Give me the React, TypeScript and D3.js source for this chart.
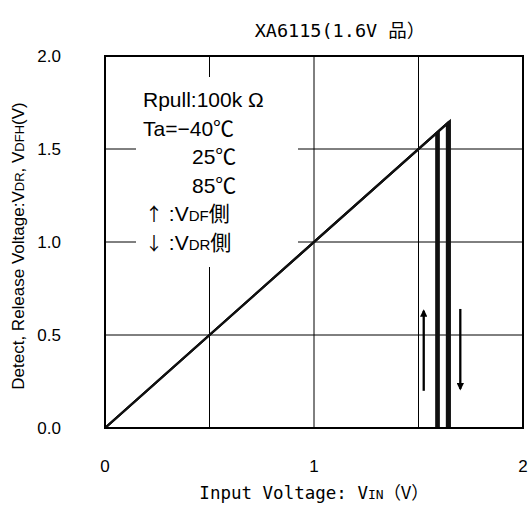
import React from "react";
import * as d3 from "d3";

const titleMain = "XA6115(1.6V ";
const titleCJK = "品）";
const xTicks = [0, 1, 2];
const yTicks = [0, 0.5, 1.0, 1.5, 2.0];
const gridX = [0.5, 1, 1.5];
const gridY = [0.5, 1, 1.5];
const temps = ["-40", "25", "85"];
const vdf = [1.585, 1.591, 1.597];
const vdr = [1.636, 1.643, 1.65];
const arrowUp = { x: 1.525, y0: 0.2, y1: 0.63 };
const arrowDown = { x: 1.7, y0: 0.64, y1: 0.21 };

const W = 530, H = 505;
const L = 105, R = 523, T = 56, B = 428;
const FONT = "'Liberation Sans', 'Noto Sans CJK JP', sans-serif";
const MONO = "'DejaVu Sans Mono', 'Noto Sans CJK JP', monospace";
const CJK = "'Noto Sans CJK JP', sans-serif";

export default function App() {
  const x = d3.scaleLinear().domain([0, 2]).range([L, R]);
  const y = d3.scaleLinear().domain([0, 2]).range([B, T]);
  const line = d3.line<[number, number]>().x((d) => x(d[0])).y((d) => y(d[1]));

  const paths: string[] = [];
  temps.forEach((_, i) => {
    paths.push(line([[0, 0], [vdr[i], vdr[i]], [vdr[i], 0]])!);
    paths.push(line([[vdf[i], vdf[i]], [vdf[i], 0]])!);
  });

  const legendX = 143;
  const rowY = (i: number) => 107 + i * 28.6;

  return (
    <svg width={W} height={H} style={{ position: "absolute", left: 0, top: 0, background: "#fff" }} fontFamily={FONT}>
      <defs>
        <marker id="ah" viewBox="0 0 10 10" refX="8" refY="5" markerWidth="3.5" markerHeight="3.2" orient="auto">
          <path d="M0,0 L10,5 L0,10 z" fill="#000" />
        </marker>
      </defs>
      {gridX.map((g) => (
        <line key={"gx" + g} x1={x(g)} x2={x(g)} y1={T} y2={B} stroke="#000" strokeWidth={1} />
      ))}
      {gridY.map((g) => (
        <line key={"gy" + g} x1={L} x2={R} y1={y(g)} y2={y(g)} stroke="#000" strokeWidth={1} />
      ))}
      <rect x={136} y={77} width={162} height={190} fill="#fff" />
      {paths.map((p, i) => (
        <path key={i} d={p} fill="none" stroke="#111" strokeWidth={2.2} />
      ))}
      <line x1={x(arrowUp.x)} x2={x(arrowUp.x)} y1={y(arrowUp.y0)} y2={y(arrowUp.y1)} stroke="#000" strokeWidth={2.3} markerEnd="url(#ah)" />
      <line x1={x(arrowDown.x)} x2={x(arrowDown.x)} y1={y(arrowDown.y0)} y2={y(arrowDown.y1)} stroke="#000" strokeWidth={2.3} markerEnd="url(#ah)" />
      <rect x={L} y={T} width={R - L} height={B - T} fill="none" stroke="#000" strokeWidth={2} />
      {yTicks.map((t) => (
        <text key={"yt" + t} x={61} y={y(t) + 6} textAnchor="end" fontSize={17}>{t.toFixed(1)}</text>
      ))}
      {xTicks.map((t) => (
        <text key={"xt" + t} x={x(t)} y={472} textAnchor="middle" fontSize={17}>{t}</text>
      ))}
      <text x={340} y={37} textAnchor="middle" fontSize={18.5} fontFamily={MONO}>
        {titleMain}<tspan fontFamily={CJK}>{titleCJK}</tspan>
      </text>
      <text x={314} y={499} textAnchor="middle" fontSize={17.5} fontFamily={MONO}>
        Input Voltage:  V<tspan fontSize={13}>IN</tspan><tspan fontFamily={CJK}>（V）</tspan>
      </text>
      <text transform={`translate(24,${246}) rotate(-90)`} textAnchor="middle" fontSize={17}>
        Detect, Release Voltage:V<tspan fontSize={13}>DR</tspan>, V<tspan fontSize={13}>DFH</tspan>(V)
      </text>
      <g fontSize={21}>
        <text x={legendX} y={rowY(0)}>Rpull:100k Ω</text>
        <text x={legendX} y={rowY(1)}>Ta=−{temps[0].replace("-", "")}℃</text>
        <text x={192} y={rowY(2)}>{temps[1]}℃</text>
        <text x={192} y={rowY(3)}>{temps[2]}℃</text>
        <text x={145} y={rowY(4)}><tspan fontFamily={CJK} fontSize={18}>↑</tspan> :V<tspan fontSize={15}>DF</tspan>側</text>
        <text x={145} y={rowY(5)}><tspan fontFamily={CJK} fontSize={18}>↓</tspan> :V<tspan fontSize={15}>DR</tspan>側</text>
      </g>
    </svg>
  );
}
